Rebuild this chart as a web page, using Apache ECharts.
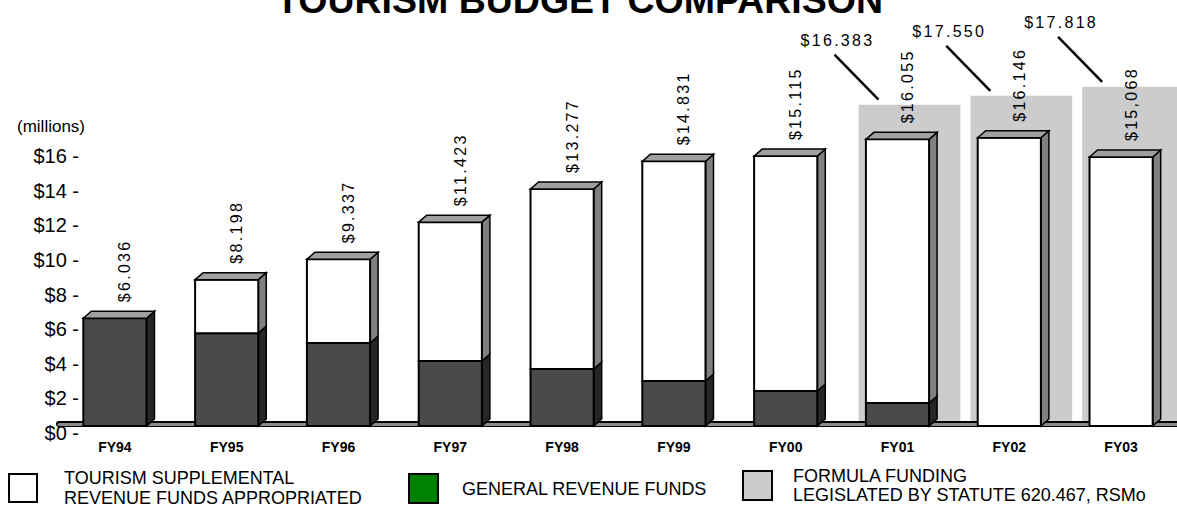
<!DOCTYPE html>
<html>
<head>
<meta charset="utf-8">
<title>Tourism Budget Comparison</title>
<script src="https://cdn.jsdelivr.net/npm/echarts@6.0.0/dist/echarts.min.js"></script>
<style>
  html, body { margin: 0; padding: 0; background: #fff; }
  #chart { width: 1177px; height: 510px; }
  /* value labels in the picture are letter-spaced */
  #chart text[fill="#010101"] { letter-spacing: 2.3px; }
</style>
</head>
<body>
<div id="chart"></div>
<script>
// fiscal years on the x axis
const years = ['FY94', 'FY95', 'FY96', 'FY97', 'FY98', 'FY99', 'FY00', 'FY01', 'FY02', 'FY03'];
// lower (dark) part of each column, millions
const generalRevenue = [6.036, 5.2, 4.65, 3.64, 3.19, 2.52, 1.96, 1.29, 0, 0];
// upper (white) part of each column, millions
const tourismSupplemental = [0, 3.0, 4.69, 7.78, 10.09, 12.31, 13.16, 14.77, 16.146, 15.068];
// printed totals above the columns
const totalLabels = ['$6.036', '$8.198', '$9.337', '$11.423', '$13.277', '$14.831', '$15.115', '$16.055', '$16.146', '$15,068'];
// grey formula-funding boxes behind FY01-FY03 (height) and their call-outs
const formulaShade = [null, null, null, null, null, null, null, 18.0, 18.5, 19.0];
const formulaLabels = [null, null, null, null, null, null, null, '$16.383', '$17.550', '$17.818'];
// y axis ticks ($0 .. $16)
const yMax = 16;
const yStep = 2;

const FONT = '"Liberation Sans", Arial, Helvetica, sans-serif';
const labelFont = '16px ' + FONT;
const BAR_RATIO = 0.565;
const DX = 8;   // 3d depth, right
const DY = 7;   // 3d depth, up

const tourismName = 'TOURISM SUPPLEMENTAL\nREVENUE FUNDS APPROPRIATED';
const generalName = 'GENERAL REVENUE FUNDS';
const formulaName = 'FORMULA FUNDING\nLEGISLATED BY STATUTE 620.467, RSMo';

function renderShade(params, api) {
  const i = api.value(0);
  const v = api.value(1);
  const base = api.coord([i, 0]);
  const top = api.coord([i, v]);
  const band = api.size([1, 0])[0];
  const sw = band * 0.91;
  const sc = base[0] + 12;
  return {
    type: 'group',
    children: [
      {
        type: 'rect',
        shape: { x: sc - sw / 2, y: top[1], width: sw, height: base[1] - top[1] },
        style: { fill: '#cccccc' }
      },
      {
        type: 'line',
        shape: { x1: base[0] - 63, y1: top[1] - 50, x2: base[0] - 19, y2: top[1] - 5 },
        style: { stroke: '#000', lineWidth: 2.5 }
      },
      {
        type: 'text',
        x: base[0] - 60,
        y: top[1] - 64,
        style: {
          text: formulaLabels[i], fill: '#010101', font: labelFont,
          align: 'center', verticalAlign: 'middle'
        }
      }
    ]
  };
}

function renderGeneral(params, api) {
  const i = api.value(0);
  const v = api.value(1);
  if (!v) return null;
  const base = api.coord([i, 0]);
  const top = api.coord([i, v]);
  const w = api.size([1, 0])[0] * BAR_RATIO;
  const x0 = base[0] - w / 2;
  const x1 = x0 + w;
  return {
    type: 'group',
    children: [
      {
        type: 'polygon',
        shape: { points: [[x1, top[1]], [x1 + DX, top[1] - DY], [x1 + DX, base[1] - DY], [x1, base[1]]] },
        style: { fill: '#262626', stroke: '#000', lineWidth: 1.5 }
      },
      {
        type: 'rect',
        shape: { x: x0, y: top[1], width: w, height: base[1] - top[1] },
        style: { fill: '#4a4a4a', stroke: '#000', lineWidth: 2 }
      }
    ]
  };
}

function renderTourism(params, api) {
  const i = api.value(0);
  const g = api.value(1);
  const t = api.value(2);
  const gTop = api.coord([i, g]);
  const tTop = api.coord([i, g + t]);
  const w = api.size([1, 0])[0] * BAR_RATIO;
  const cx = gTop[0];
  const x0 = cx - w / 2;
  const x1 = x0 + w;
  const children = [];
  if (t > 0) {
    children.push({
      type: 'polygon',
      shape: { points: [[x1, tTop[1]], [x1 + DX, tTop[1] - DY], [x1 + DX, gTop[1] - DY], [x1, gTop[1]]] },
      style: { fill: '#808080', stroke: '#000', lineWidth: 1.5 }
    });
    children.push({
      type: 'rect',
      shape: { x: x0, y: tTop[1], width: w, height: gTop[1] - tTop[1] },
      style: { fill: '#ffffff', stroke: '#000', lineWidth: 2 }
    });
  }
  children.push({
    type: 'polygon',
    shape: { points: [[x0, tTop[1]], [x0 + DX, tTop[1] - DY], [x1 + DX, tTop[1] - DY], [x1, tTop[1]]] },
    style: { fill: '#a0a0a0', stroke: '#000', lineWidth: 1.5 }
  });
  children.push({
    type: 'text',
    x: cx + 10,
    y: tTop[1] - 16,
    rotation: Math.PI / 2,
    style: {
      text: totalLabels[i], fill: '#010101', font: labelFont,
      align: 'left', verticalAlign: 'middle'
    }
  });
  return { type: 'group', children: children };
}

const shadeData = [];
formulaShade.forEach((v, i) => { if (v != null) shadeData.push([i, v]); });

const legendText = (pad, lh) => ({ color: '#000', fontSize: 18, fontFamily: FONT, lineHeight: lh, padding: pad });

const chart = echarts.init(document.getElementById('chart'), null, { renderer: 'svg' });
chart.setOption({
  animation: false,
  backgroundColor: '#ffffff',
  title: [
    {
      text: 'TOURISM BUDGET COMPARISON',
      left: 271,
      top: -24,
      textStyle: { fontSize: 37.5, fontWeight: 'bold', lineHeight: 37, color: '#000', fontFamily: FONT }
    },
    {
      text: '(millions)',
      left: 12,
      top: 113,
      textStyle: { fontSize: 17, fontWeight: 'normal', lineHeight: 17, color: '#000', fontFamily: FONT }
    }
  ],
  legend: [
    {
      left: 8, top: 463, padding: 0, icon: 'rect', itemWidth: 28, itemHeight: 28,
      selectedMode: false, data: [tourismName],
      itemStyle: { borderColor: '#000', borderWidth: 2 },
      textStyle: legendText([10, 0, 0, 22], 20)
    },
    {
      left: 408, top: 473, padding: 0, icon: 'rect', itemWidth: 29, itemHeight: 29,
      selectedMode: false, data: [generalName],
      itemStyle: { borderColor: '#000', borderWidth: 2 },
      textStyle: legendText([8, 0, 0, 19], 20)
    },
    {
      left: 742, top: 462, padding: 0, icon: 'rect', itemWidth: 29, itemHeight: 29,
      selectedMode: false, data: [formulaName],
      itemStyle: { borderColor: '#000', borderWidth: 2 },
      textStyle: legendText([0, 0, 9, 16], 19)
    }
  ],
  grid: [
    { left: 59, right: 0, top: 69, bottom: 84 },
    { left: 87, right: 0, top: 156, bottom: 77 }
  ],
  xAxis: [
    {
      gridIndex: 0, type: 'category', data: years, position: 'bottom', offset: -2, z: 1.5,
      axisLine: { onZero: false, lineStyle: { color: '#000', width: 6 } },
      axisTick: { show: false },
      axisLabel: { margin: 16, color: '#000', fontSize: 14, fontWeight: 'bold', fontFamily: FONT }
    },
    {
      gridIndex: 0, type: 'category', data: years, position: 'bottom', offset: -2, z: 1.6,
      axisLine: { onZero: false, lineStyle: { color: '#8a8a8a', width: 3 } },
      axisTick: { show: false },
      axisLabel: { show: false }
    },
    { gridIndex: 1, type: 'category', data: years, show: false }
  ],
  yAxis: [
    { gridIndex: 0, type: 'value', min: 0, max: 20, show: false },
    {
      gridIndex: 1, type: 'value', min: 0, max: yMax, interval: yStep,
      axisLine: { show: false }, axisTick: { show: false }, splitLine: { show: false },
      axisLabel: {
        margin: 8, color: '#000', fontSize: 20, fontFamily: FONT,
        formatter: (v) => '$' + v + ' -'
      }
    }
  ],
  series: [
    {
      name: formulaName, type: 'custom', z: 1,
      xAxisIndex: 0, yAxisIndex: 0,
      itemStyle: { color: '#cccccc' },
      renderItem: renderShade,
      data: shadeData
    },
    {
      name: generalName, type: 'custom', z: 2,
      xAxisIndex: 0, yAxisIndex: 0,
      itemStyle: { color: '#008000' },
      renderItem: renderGeneral,
      data: years.map((y, i) => [i, generalRevenue[i]])
    },
    {
      name: tourismName, type: 'custom', z: 3,
      xAxisIndex: 0, yAxisIndex: 0,
      itemStyle: { color: '#ffffff' },
      renderItem: renderTourism,
      data: years.map((y, i) => [i, generalRevenue[i], tourismSupplemental[i]])
    }
  ]
});
</script>
</body>
</html>
